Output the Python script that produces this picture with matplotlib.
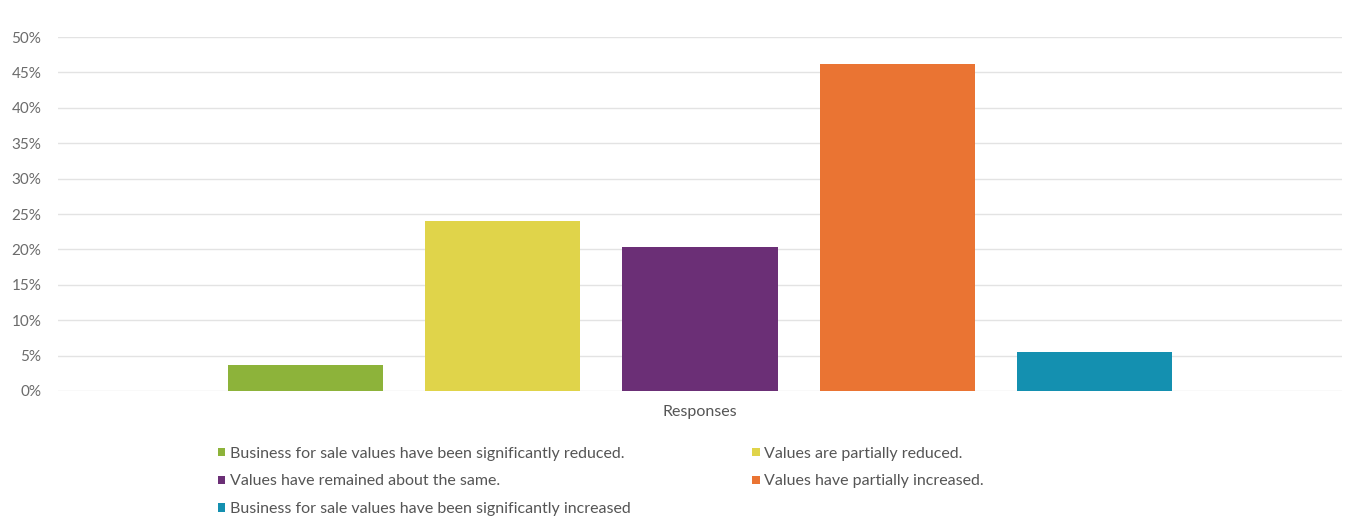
import matplotlib
matplotlib.use("Agg")
import matplotlib.pyplot as plt
from matplotlib.ticker import PercentFormatter
from matplotlib.patches import Patch

labels = [
    "Business for sale values have been significantly reduced.",
    "Values are partially reduced.",
    "Values have remained about the same.",
    "Values have partially increased.",
    "Business for sale values have been significantly increased",
]
values = [3.7, 24.0, 20.3, 46.2, 5.5]
colors = ["#8db33a", "#e0d44a", "#6b2f76", "#ea7433", "#1490b0"]
yticks = [0, 5, 10, 15, 20, 25, 30, 35, 40, 45, 50]
category = "Responses"

plt.rcParams['font.family'] = ['Lato', 'DejaVu Sans']

fig = plt.figure(figsize=(13.5, 5.22), dpi=100)
ax = fig.add_axes([0.043, 0.251, 0.951, 0.678])

x = list(range(len(values)))
ax.bar(x, values, width=0.787, color=colors, zorder=3)
ax.set_xlim(-1.256, len(values) - 1 + 1.256)
ax.set_ylim(0, 50)
ax.set_yticks(yticks)
ax.yaxis.set_major_formatter(PercentFormatter(decimals=0))
ax.grid(axis='y', color='#e3e3e3', linewidth=1, zorder=0)
for s in ax.spines.values():
    s.set_visible(False)
ax.tick_params(axis='y', length=0, labelsize=11, labelcolor='#6b6b6b', pad=12)
ax.set_xticks([])
ax.set_xlabel(category, fontsize=11.5, color='#555555', labelpad=10)

order = [0, 2, 4, 1, 3]
handles = [Patch(facecolor=colors[i], label=labels[i]) for i in order]
fig.legend(handles=handles, ncol=2, loc='upper left', bbox_to_anchor=(0.151, 0.172),
           frameon=False, fontsize=11.5, labelcolor='#555555', handlelength=0.45,
           handleheight=0.45, handletextpad=0.3, columnspacing=7.6, labelspacing=0.87)

fig.savefig("out.png", dpi=100)
